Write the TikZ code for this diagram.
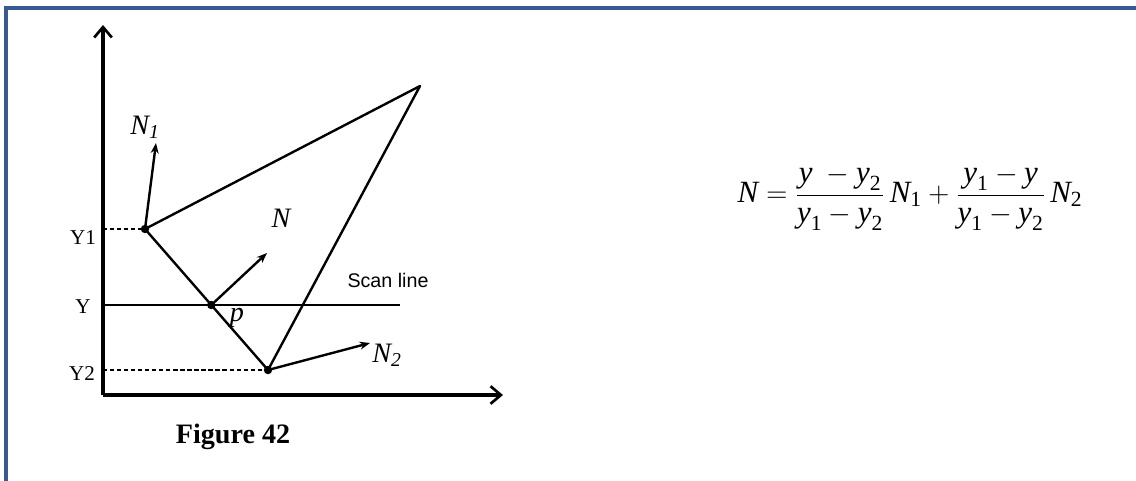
\documentclass[tikz,border=0pt]{standalone}
\usepackage{fontspec}
\setmainfont{Liberation Serif}
\setsansfont{Liberation Sans}
\usepackage{amsmath}
\usetikzlibrary{arrows.meta,calc}
\definecolor{framecol}{RGB}{58,88,150}
\newcommand{\vv}[1]{\textit{#1}}
\newcommand{\sub}[1]{_{\text{#1}}}
\begin{document}
\begin{tikzpicture}[
    axis/.style={line width=2.3pt, -{Straight Barb[length=2.6mm,width=4.4mm,line width=1.9pt]}},
    edge/.style={line width=1.7pt},
    nvec/.style={line width=1.7pt, -{Stealth[length=2.6mm,width=2mm]}},
    lvl/.style={line width=1.3pt, dashed, dash pattern=on 3pt off 2pt},
    vtx/.style={circle, fill, inner sep=0pt, minimum size=6pt},
    ylab/.style={font=\fontsize{15}{17}\selectfont},
    nlab/.style={font=\fontsize{20}{23}\selectfont\itshape}
  ]
    \useasboundingbox (0,0) rectangle (28.4,-12);
    \draw[framecol, line width=2.2pt] (0.15,-12.1) -- (0.15,-0.2) -- (28.5,-0.2);
    \coordinate (o) at (2.575,-9.875);
    \coordinate (ytop) at (2.575,-0.625);
    \coordinate (xend) at (12.575,-9.875);
    \node[vtx] (v1) at (3.625,-5.725) {};
    \coordinate (v2) at (10.5,-2.15);
    \node[vtx] (v3) at (6.7,-9.25) {};
    \node[vtx] (p) at ($(3.625,-5.725)!0.539!(6.7,-9.25)$) {};
    \coordinate (sl) at (2.575,-7.625);
    \coordinate (sr) at (10,-7.625);
    \coordinate (n1tip) at (3.9,-3.575);
    \coordinate (ntip) at (6.675,-6.325);
    \coordinate (n2tip) at (9.25,-8.575);
    \coordinate (y1l) at (2.575,-5.725);
    \coordinate (y2l) at (2.575,-9.25);
    \draw[axis] (o) -- (ytop);
    \draw[axis] (o) -- (xend);
    \draw[edge, line join=round] (v1.center) -- (v2) -- (v3.center) -- cycle;
    \draw[edge] (sl) -- (sr);
    \draw[lvl] (y1l) -- (v1.center);
    \draw[lvl] (y2l) -- (v3.center);
    \draw[nvec] (v1.center) -- (n1tip);
    \draw[nvec] (p.center) -- (ntip);
    \draw[nvec] (v3.center) -- (n2tip);
    \node[ylab] (y1) at (2.075,-5.95) {Y1};
    \node[ylab] (y) at (2.075,-7.675) {Y};
    \node[ylab] (y2) at (2.05,-9.35) {Y2};
    \node[nlab] (n1) at (3.625,-3.175) {N\textsubscript{1}};
    \node[nlab] (n) at (7.025,-5.45) {N};
    \node[nlab] (plab) at (5.925,-7.95) {p};
    \node[nlab] (n2) at (9.675,-8.875) {N\textsubscript{2}};
    \node[font=\sffamily\fontsize{14}{16}\selectfont] (scan) at (9.7,-7.0) {Scan line};
    \node[font=\bfseries\fontsize{20}{23}\selectfont] (cap) at (5.825,-10.925) {Figure 42};
    \node[font=\fontsize{22}{26}\selectfont] (eq) at (22.75,-4.95)
      {$\vv{N}=\dfrac{\vv{y}\ -\vv{y}\sub{2}}{\vv{y}\sub{1}-\vv{y}\sub{2}}\,\vv{N}\sub{1}+\dfrac{\vv{y}\sub{1}-\vv{y}}{\vv{y}\sub{1}-\vv{y}\sub{2}}\,\vv{N}\sub{2}$};
\end{tikzpicture}
\end{document}
